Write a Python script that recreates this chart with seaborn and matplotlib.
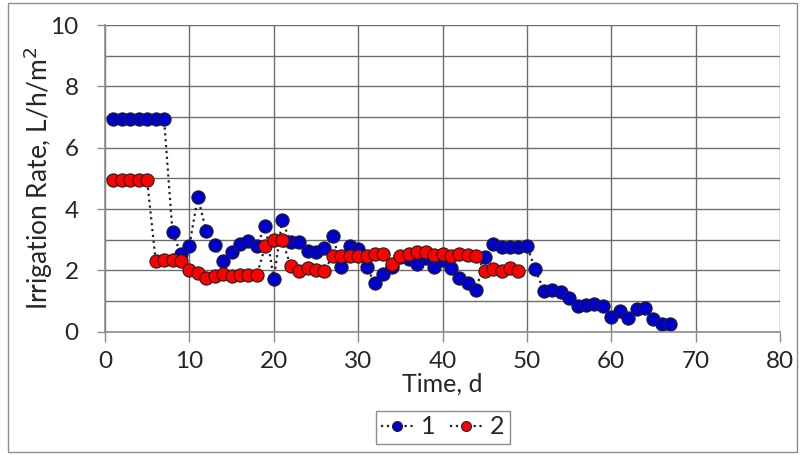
import numpy as np
import pandas as pd
import matplotlib
matplotlib.use('Agg')
import matplotlib.pyplot as plt
from matplotlib.patches import Rectangle
import seaborn as sns

# --- Data ---
days_1 = list(range(1, 68))
rate_1 = [6.93, 6.93, 6.93, 6.93, 6.93, 6.93, 6.93, 3.24, 2.53, 2.80,
          4.39, 3.28, 2.83, 2.30, 2.61, 2.86, 2.97, 2.80, 3.46, 1.72,
          3.63, 2.93, 2.91, 2.63, 2.61, 2.72, 3.12, 2.10, 2.80, 2.70,
          2.10, 1.58, 1.87, 2.10, 2.43, 2.36, 2.21, 2.39, 2.10, 2.34,
          2.07, 1.74, 1.60, 1.36, 2.43, 2.86, 2.77, 2.76, 2.76, 2.80,
          2.03, 1.34, 1.36, 1.28, 1.11, 0.85, 0.87, 0.90, 0.85, 0.49,
          0.67, 0.46, 0.74, 0.78, 0.41, 0.24, 0.24]

days_2 = list(range(1, 50))
rate_2 = [4.93, 4.93, 4.93, 4.93, 4.93, 2.32, 2.33, 2.33, 2.30, 2.00,
          1.90, 1.76, 1.83, 1.88, 1.82, 1.85, 1.84, 1.85, 2.80, 2.99,
          2.99, 2.14, 1.99, 2.07, 2.01, 1.99, 2.48, 2.48, 2.48, 2.48,
          2.48, 2.53, 2.53, 2.21, 2.48, 2.53, 2.61, 2.59, 2.50, 2.53,
          2.48, 2.53, 2.50, 2.48, 1.99, 2.04, 1.99, 2.07, 1.99]

series_labels = ['1', '2']
face_colors = ['#0000CC', '#FF0000']

x_ticks = [0, 10, 20, 30, 40, 50, 60, 70, 80]
y_ticks = [0, 2, 4, 6, 8, 10]


def main():
    sns.set_style('white')
    plt.rcParams['font.family'] = ['Lato', 'DejaVu Sans']

    fig = plt.figure(figsize=(8.07, 4.55), dpi=100)
    ax = fig.add_axes([105 / 807, 1 - 331.7 / 455, 675 / 807, 306.7 / 455])

    frames = [pd.DataFrame({'day': days_1, 'rate': rate_1}),
              pd.DataFrame({'day': days_2, 'rate': rate_2})]
    for df, lab, fc in zip(frames, series_labels, face_colors):
        sns.lineplot(data=df, x='day', y='rate', ax=ax, color='#222222',
                     linestyle=':', linewidth=1.6, marker='o', markersize=9.5,
                     markerfacecolor=fc, markeredgecolor='#202020',
                     markeredgewidth=0.8, label=lab, errorbar=None)

    ax.set_xlim(0, 80)
    ax.set_ylim(0, 10)
    ax.set_xticks(x_ticks)
    ax.set_yticks(y_ticks)
    ax.set_yticks(np.arange(1, 10, 2), minor=True)
    ax.grid(True, which='both', axis='y', color='#6e6e6e', linewidth=1.0)
    ax.grid(True, which='major', axis='x', color='#6e6e6e', linewidth=1.0)
    ax.set_axisbelow(True)

    for side in ['top', 'right']:
        ax.spines[side].set_visible(False)
    for side in ['left', 'bottom']:
        ax.spines[side].set_color('#8c8c8c')
        ax.spines[side].set_linewidth(1.2)

    ax.tick_params(axis='y', which='major', direction='out', length=6,
                   width=1, color='#8c8c8c', pad=13, labelsize=17.5, left=True)
    ax.tick_params(axis='y', which='minor', length=0)
    ax.tick_params(axis='x', direction='out', length=7, width=1,
                   color='#8c8c8c', pad=7, labelsize=17.5, bottom=True)

    ax.set_xlabel('Time, d', fontsize=18, labelpad=0)
    ax.set_ylabel('Irrigation Rate, L/h/m$^2$', fontsize=19, labelpad=-3)

    leg = ax.legend(loc='center', bbox_to_anchor=(442.5 / 807, 1 - 427 / 455),
                    bbox_transform=fig.transFigure, ncol=2, fontsize=18,
                    frameon=True, fancybox=False, framealpha=1,
                    edgecolor='#8c8c8c', handlelength=1.3, handletextpad=0.3,
                    columnspacing=0.6, borderpad=0.2, markerscale=0.75)
    leg.get_frame().set_linewidth(1.0)

    fig.patches.append(Rectangle((8 / 807, 3 / 455), 789 / 807, 449 / 455,
                                 transform=fig.transFigure, fill=False,
                                 edgecolor='#8c8c8c', linewidth=1.0))

    fig.savefig('out.png', dpi=100)
    plt.close(fig)


if __name__ == '__main__':
    main()
